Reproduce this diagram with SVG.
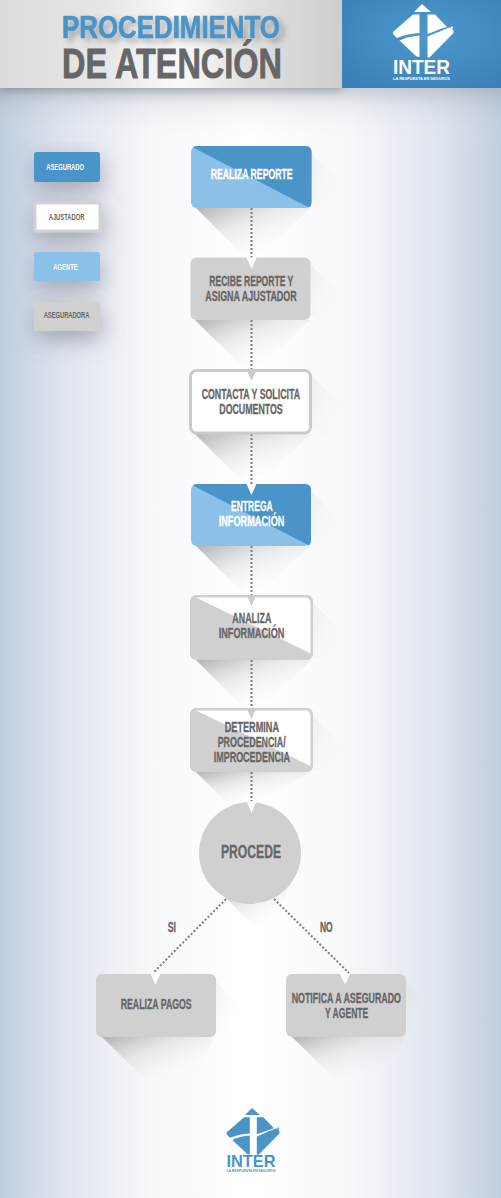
<svg xmlns="http://www.w3.org/2000/svg" xmlns:xlink="http://www.w3.org/1999/xlink" width="501" height="1198" viewBox="0 0 501 1198">
<style>
text{font-family:"Liberation Sans Narrow","Liberation Sans",Arial,sans-serif;font-weight:700;fill:#666}
.w{fill:#fff}
.t{font-size:13.800px;stroke:#666;stroke-width:.3}
.t.w{stroke:#fff}
.l{font-size:8.2px}
.dark{fill:#4a94c8}
.light{fill:#8bc0e8}
.gray{fill:#d0d0d0}
.box{fill:#fff;stroke:#cbcbcb;stroke-width:3}
.sb{fill:url(#shB)}
.sr{fill:url(#shR)}
.conn{fill:none;stroke:#7d7d7d;stroke-width:2;stroke-dasharray:2 2}
</style>
<defs>
<linearGradient id="bgH" x1="0" x2="1" y1="0" y2="0"><stop offset="0" stop-color="#bfcddf"/><stop offset=".12" stop-color="#dfe5ee"/><stop offset=".3" stop-color="#f7f8fb"/><stop offset=".5" stop-color="#fff"/><stop offset=".7" stop-color="#f7f8fb"/><stop offset=".88" stop-color="#dfe5ee"/><stop offset="1" stop-color="#bfcddf"/></linearGradient>
<linearGradient id="topShade" x1="0" x2="0" y1="0" y2="1"><stop offset="0" stop-color="#8a94a2" stop-opacity=".4"/><stop offset=".35" stop-color="#aab2be" stop-opacity=".14"/><stop offset="1" stop-color="#fff" stop-opacity="0"/></linearGradient>
<linearGradient id="hdr" x1="0" x2="1" y1="0" y2="0"><stop offset="0" stop-color="#dcdcdc"/><stop offset=".3" stop-color="#e6e6e6"/><stop offset=".53" stop-color="#fafafa"/><stop offset=".72" stop-color="#e2e2e2"/><stop offset="1" stop-color="#cdcdcd"/></linearGradient>
<radialGradient id="blue" cx=".55" cy=".4" r=".75"><stop offset="0" stop-color="#4d98cd"/><stop offset="1" stop-color="#3a7fb5"/></radialGradient>
<linearGradient id="shB" x1="0" y1="0" x2=".75" y2=".8"><stop offset="0" stop-color="#aaa" stop-opacity=".9"/><stop offset=".5" stop-color="#ccc" stop-opacity=".35"/><stop offset="1" stop-color="#eee" stop-opacity="0"/></linearGradient>
<linearGradient id="shR" x1="0" y1="0" x2="1" y2=".8"><stop offset="0" stop-color="#c8c8c8" stop-opacity=".32"/><stop offset=".8" stop-color="#eee" stop-opacity="0"/></linearGradient>
<filter id="legendSh" x="-80%" y="-120%" width="260%" height="380%"><feDropShadow dx="2" dy="8" stdDeviation="12" flood-color="#667" flood-opacity=".55"/></filter>
<filter id="txtSh" x="-10%" y="-40%" width="125%" height="200%"><feDropShadow dx="5" dy="4" stdDeviation="3" flood-color="#555" flood-opacity=".45"/></filter>
<filter id="hdrSh" x="-5%" y="-20%" width="110%" height="160%"><feDropShadow dx="0" dy="3" stdDeviation="4" flood-color="#666" flood-opacity=".4"/></filter>
<marker id="arrW" markerUnits="userSpaceOnUse" markerWidth="12" markerHeight="12" refX="5" refY="0" orient="0" overflow="visible"><polygon points="0,0 10,0 5,11" fill="#fff"/></marker>
<marker id="arrG" markerUnits="userSpaceOnUse" markerWidth="12" markerHeight="12" refX="5" refY="0" orient="0" overflow="visible"><polygon points="0,0 10,0 5,11" fill="#cbcbcb"/></marker>
<g id="mark">
<path d="M422 4 431 12H414Z"/>
<path d="M413 14.500H419.500V33C410 33.500 403 35.500 397 38L393.500 34.500Q392 33 393.500 31.500Z"/>
<path d="M399.500 40.500C405 38 412 36 419.500 35.500V57L416.500 56.500Z"/>
<path d="M427.500 14.500H435L447 27C440 29 434 31.500 427.500 34Z"/>
<path d="M427.500 36.500C436 33 443 30 449 27.500Q451 27 452 28.500L453.500 31Q454 32.500 452.500 34L429.500 57.500L427.500 57.500Z"/>
<circle cx="452" cy="27.500" r="1.100"/>
</g>
</defs>

<rect id="background" width="501" height="1198" fill="url(#bgH)"/>
<rect x="0" y="88" width="501" height="60" fill="url(#topShade)"/>

<g id="header">
<rect x="0" y="0" width="342" height="88" fill="url(#hdr)" filter="url(#hdrSh)"/>
<rect x="342" y="0" width="159" height="88" fill="url(#blue)"/>
<text x="62" y="38" font-size="31" textLength="218" lengthAdjust="spacingAndGlyphs" style="fill:#4a94c8;stroke:#4a94c8;stroke-width:.7" filter="url(#txtSh)">PROCEDIMIENTO</text>
<text x="62" y="78" font-size="42" textLength="220" lengthAdjust="spacingAndGlyphs" style="stroke:#666;stroke-width:.8">DE ATENCIÓN</text>
</g>
<g id="logo-top" fill="#fff">
<use xlink:href="#mark" href="#mark"/>
<text class="w" x="393" y="74" font-size="19.500" textLength="57" lengthAdjust="spacingAndGlyphs" style="font-family:'Liberation Sans',sans-serif">INTER</text>
<text class="w" x="393" y="79.500" font-size="3.800" textLength="57" lengthAdjust="spacingAndGlyphs" style="font-family:'Liberation Sans',sans-serif">LA RESPUESTA EN SEGUROS</text>
</g>

<g id="shadows">
<polygon class="sb" points="196,208 310,208 258,258 246,258"/>
<polygon class="sr" points="305,147 345,187 345,225 311,205"/>
<polygon class="sb" points="195,320 310,320 258,369 245,369"/>
<polygon class="sr" points="305,259 345,299 345,337 311,316"/>
<polygon class="sb" points="195,434 311,434 258,484 245,484"/>
<polygon class="sr" points="307,371 347,411 347,450 312,430"/>
<polygon class="sb" points="196,546 310,546 258,595 245,595"/>
<polygon class="sr" points="305,485 345,525 345,563 311,542"/>
<polygon class="sb" points="196,660 312,660 258,708 244,708"/>
<polygon class="sr" points="307,597 347,637 347,677 312,656"/>
<polygon class="sb" points="196,772 312,772 258,802 226,802"/>
<polygon class="sr" points="307,710 347,750 347,790 312,768"/>
<polygon class="sr" points="270,811 325,866 300,892 296,870"/>
<polygon class="sb" points="224,896 292,880 284,900 258,930"/>
<polygon class="sb" points="102,1037 215,1037 190,1080 146,1080"/>
<polygon class="sr" points="210,976 240,1006 240,1040 216,1032"/>
<polygon class="sb" points="292,1037 405,1037 380,1080 336,1080"/>
<polygon class="sr" points="400,976 430,1006 430,1040 406,1032"/>
</g>

<g id="connectors">
<line class="conn" x1="251.500" y1="208" x2="251.500" y2="258" marker-end="url(#arrW)"/>
<line class="conn" x1="251.500" y1="320" x2="251.500" y2="369" marker-end="url(#arrG)"/>
<line class="conn" x1="251.500" y1="434" x2="251.500" y2="484" marker-end="url(#arrW)"/>
<line class="conn" x1="251.500" y1="546" x2="251.500" y2="595" marker-end="url(#arrG)"/>
<line class="conn" x1="251.500" y1="660" x2="251.500" y2="708" marker-end="url(#arrG)"/>
<line class="conn" x1="251.500" y1="772" x2="251.500" y2="802"/>
<path class="conn" d="M226 899 153 973"/>
<path class="conn" d="M274 899 349 973"/>
</g>

<g id="legend-asegurado"><rect class="dark" x="34" y="152" width="66" height="30" rx="2.500" filter="url(#legendSh)"/><text class="l w" x="46.300" y="170" textLength="37.700" lengthAdjust="spacingAndGlyphs">ASEGURADO</text></g>
<g id="legend-ajustador"><rect x="35" y="203" width="65" height="28" rx="1.500" fill="#fff" stroke="#d2d2d2" stroke-width="3" filter="url(#legendSh)"/><text class="l" x="48.700" y="220" textLength="35.700" lengthAdjust="spacingAndGlyphs">AJUSTADOR</text></g>
<g id="legend-agente"><rect class="light" x="34" y="252" width="66" height="29" rx="2.500" filter="url(#legendSh)"/><text class="l w" x="53.300" y="270" textLength="24.300" lengthAdjust="spacingAndGlyphs">AGENTE</text></g>
<g id="legend-aseguradora"><rect class="gray" x="34" y="302" width="66" height="29" rx="2.500" filter="url(#legendSh)"/><text class="l" x="43.700" y="318" textLength="45.700" lengthAdjust="spacingAndGlyphs">ASEGURADORA</text></g>

<g id="n1">
<rect class="light" x="191" y="146" width="120.500" height="62" rx="6"/>
<path class="dark" d="M193 147.500Q194 146 197 146H305.500Q311.500 146 311.500 152V202Q311.500 206 309 207.500Z"/>
<text class="t w" x="210.700" y="179" textLength="82" lengthAdjust="spacingAndGlyphs">REALIZA REPORTE</text>
</g>
<g id="n2">
<rect class="gray" x="190.500" y="257.500" width="120" height="62.500" rx="6"/>
<polygon points="246.500,257.500 256.500,257.500 251.500,269" fill="#fff"/>
<text class="t" x="209.300" y="286" textLength="84" lengthAdjust="spacingAndGlyphs">RECIBE REPORTE Y</text>
<text class="t" x="205.300" y="301.300" textLength="91.400" lengthAdjust="spacingAndGlyphs">ASIGNA AJUSTADOR</text>
</g>
<g id="n3">
<rect class="box" x="190.500" y="370.500" width="120" height="62.500" rx="6"/>
<polygon points="246.500,370 256.500,370 251.500,381" fill="#cbcbcb"/>
<text class="t" x="201.700" y="398.700" textLength="98.300" lengthAdjust="spacingAndGlyphs">CONTACTA Y SOLICITA</text>
<text class="t" x="219.300" y="414" textLength="63.400" lengthAdjust="spacingAndGlyphs">DOCUMENTOS</text>
</g>
<g id="n4">
<rect class="light" x="191" y="484" width="120" height="62" rx="6"/>
<path class="dark" d="M193 485.500Q194 484 197 484H305Q311 484 311 490V540Q311 544 309 545.500Z"/>
<polygon points="246.500,484 256.500,484 251.500,495" fill="#fff"/>
<text class="t w" x="231" y="511" textLength="41.700" lengthAdjust="spacingAndGlyphs">ENTREGA</text>
<text class="t w" x="218.700" y="526" textLength="65.700" lengthAdjust="spacingAndGlyphs">INFORMACIÓN</text>
</g>
<g id="n5">
<rect class="gray" x="190" y="595" width="123" height="65" rx="6"/>
<path d="M196 597.500H305Q310.500 597.500 310.500 603V653.500Z" fill="#fff"/>
<polygon points="246.500,595 256.500,595 251.500,606" fill="#cbcbcb"/>
<text class="t" x="232.300" y="622.700" textLength="39" lengthAdjust="spacingAndGlyphs">ANALIZA</text>
<text class="t" x="218.700" y="638" textLength="65.700" lengthAdjust="spacingAndGlyphs">INFORMACIÓN</text>
</g>
<g id="n6">
<rect class="gray" x="190" y="708" width="123" height="64" rx="6"/>
<path d="M196 710.500H305Q310.500 710.500 310.500 716V766Z" fill="#fff"/>
<polygon points="246.500,708 256.500,708 251.500,719" fill="#cbcbcb"/>
<text class="t" x="224.700" y="732" textLength="54.300" lengthAdjust="spacingAndGlyphs">DETERMINA</text>
<text class="t" x="217.700" y="746.700" textLength="68" lengthAdjust="spacingAndGlyphs">PROCEDENCIA/</text>
<text class="t" x="213.700" y="761.500" textLength="76.300" lengthAdjust="spacingAndGlyphs">IMPROCEDENCIA</text>
</g>
<g id="n7">
<circle class="gray" cx="250" cy="853" r="51"/>
<polygon points="246.500,801 256.500,801 251.500,813" fill="#fff"/>
<text x="221" y="857.700" font-size="19" textLength="60" lengthAdjust="spacingAndGlyphs" style="stroke:#666;stroke-width:.3">PROCEDE</text>
</g>
<g id="n8">
<rect class="gray" x="96" y="974" width="120" height="63" rx="6"/>
<polygon points="150.500,974 160.500,974 155.500,984.500" fill="#fff"/>
<text class="t" x="120.700" y="1008.700" textLength="71" lengthAdjust="spacingAndGlyphs">REALIZA PAGOS</text>
</g>
<g id="n9">
<rect class="gray" x="286" y="974" width="120" height="63" rx="6"/>
<polygon points="340,974 350,974 345,984.500" fill="#fff"/>
<text class="t" x="291.700" y="1002.700" textLength="109.300" lengthAdjust="spacingAndGlyphs">NOTIFICA A ASEGURADO</text>
<text class="t" x="325" y="1018" textLength="43.300" lengthAdjust="spacingAndGlyphs">Y AGENTE</text>
</g>
<g id="edge-labels">
<text class="t" x="167.700" y="931.700" textLength="8.300" lengthAdjust="spacingAndGlyphs">SI</text>
<text class="t" x="320" y="931.700" textLength="12.700" lengthAdjust="spacingAndGlyphs">NO</text>
</g>

<g id="logo-bottom" fill="#4a94c8">
<use xlink:href="#mark" href="#mark" transform="translate(252 1108) scale(.875) translate(-422 -4)"/>
<text x="226.500" y="1166.500" font-size="17" textLength="49" lengthAdjust="spacingAndGlyphs" style="fill:#4a94c8;font-family:'Liberation Sans',sans-serif">INTER</text>
<text x="226.500" y="1171.500" font-size="3.300" textLength="49" lengthAdjust="spacingAndGlyphs" style="fill:#4a94c8;font-family:'Liberation Sans',sans-serif">LA RESPUESTA EN SEGUROS</text>
</g>
</svg>
